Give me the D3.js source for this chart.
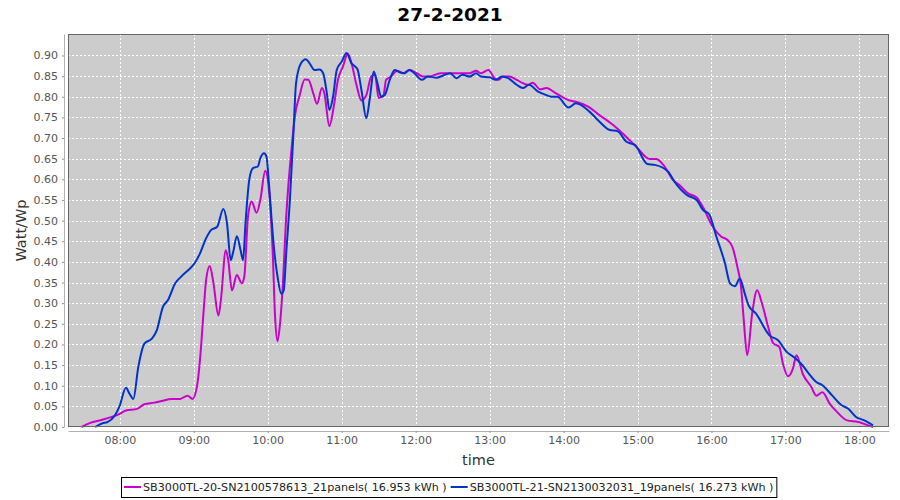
<!DOCTYPE html>
<html>
<head>
<meta charset="utf-8">
<script src="https://cdn.jsdelivr.net/npm/d3@7"></script>
<style>
  body { margin: 0; background: #fff; }
  svg { display: block; font-family: 'DejaVu Sans', sans-serif; }
</style>
</head>
<body>
<svg width="900" height="500"></svg>
<script>
// chart values
let chartTitle = '27-2-2021'
let xLabel = 'time'
let yLabel = 'Watt/Wp'
let xDomain = ['07:18', '18:24']
let yMax = 0.952
let yTicks = [0, 0.05, 0.1, 0.15, 0.2, 0.25, 0.3, 0.35, 0.4, 0.45, 0.5, 0.55, 0.6, 0.65, 0.7, 0.75, 0.8, 0.85, 0.9]

let seriesNames = [
  'SB3000TL-20-SN2100578613_21panels( 16.953 kWh )',
  'SB3000TL-21-SN2130032031_19panels( 16.273 kWh )'
]
let seriesColors = ['#cc00cc', '#0033cc']

let times20 = ['07:29', '07:36', '07:45', '07:53', '08:00', '08:05', '08:14', '08:20', '08:28', '08:34',
  '08:42', '08:49', '08:55', '08:59', '09:03', '09:05', '09:08', '09:10', '09:13', '09:16',
  '09:20', '09:22', '09:26', '09:28', '09:31', '09:35', '09:39', '09:41', '09:44', '09:47',
  '09:51', '09:54', '09:58', '10:01', '10:04', '10:06', '10:08', '10:10', '10:12', '10:15',
  '10:20', '10:22', '10:26', '10:30', '10:33', '10:37', '10:40', '10:44', '10:46', '10:50',
  '10:54', '10:57', '11:01', '11:05', '11:08', '11:12', '11:16', '11:20', '11:24', '11:27',
  '11:30', '11:34', '11:36', '11:40', '11:45', '11:50', '11:55', '12:01', '12:06', '12:11',
  '12:20', '12:28', '12:36', '12:44', '12:49', '12:53', '12:59', '13:04', '13:07', '13:11',
  '13:16', '13:22', '13:27', '13:31', '13:35', '13:41', '13:46', '13:54', '14:05', '14:10',
  '14:20', '14:28', '14:40', '14:48', '14:59', '15:10', '15:15', '15:21', '15:29', '15:34',
  '15:41', '15:48', '15:53', '16:01', '16:08', '16:13', '16:17', '16:21', '16:24', '16:26',
  '16:29', '16:33', '16:37', '16:41', '16:46', '16:50', '16:55', '16:58', '17:02', '17:06',
  '17:09', '17:14', '17:21', '17:25', '17:30', '17:36', '17:42', '17:50', '17:59', '18:07', '18:11']
let values20 = [0.000, 0.010, 0.017, 0.024, 0.032, 0.040, 0.044, 0.055, 0.059, 0.063,
  0.068, 0.068, 0.076, 0.068, 0.105, 0.160, 0.280, 0.355, 0.390, 0.348,
  0.270, 0.307, 0.428, 0.404, 0.331, 0.368, 0.348, 0.364, 0.509, 0.546,
  0.519, 0.550, 0.621, 0.574, 0.428, 0.266, 0.208, 0.250, 0.331, 0.509,
  0.695, 0.752, 0.804, 0.842, 0.841, 0.808, 0.783, 0.821, 0.808, 0.729,
  0.784, 0.841, 0.873, 0.904, 0.881, 0.829, 0.791, 0.804, 0.849, 0.853,
  0.797, 0.804, 0.841, 0.849, 0.863, 0.857, 0.865, 0.857, 0.849, 0.849,
  0.857, 0.857, 0.857, 0.857, 0.863, 0.857, 0.865, 0.845, 0.841, 0.849,
  0.849, 0.841, 0.833, 0.829, 0.834, 0.818, 0.821, 0.808, 0.791, 0.788,
  0.776, 0.758, 0.732, 0.711, 0.679, 0.649, 0.649, 0.635, 0.598, 0.586,
  0.566, 0.556, 0.533, 0.485, 0.461, 0.453, 0.436, 0.388, 0.339, 0.266,
  0.174, 0.275, 0.331, 0.299, 0.242, 0.203, 0.194, 0.153, 0.123, 0.141,
  0.174, 0.129, 0.097, 0.076, 0.084, 0.056, 0.036, 0.016, 0.012, 0.004, 0.000]

let times21 = ['07:40', '07:46', '07:50', '07:56', '08:00', '08:05', '08:08', '08:11', '08:15', '08:20',
  '08:26', '08:30', '08:35', '08:39', '08:45', '08:50', '08:57', '09:01', '09:05', '09:10',
  '09:14', '09:19', '09:24', '09:27', '09:30', '09:32', '09:35', '09:38', '09:40', '09:42',
  '09:45', '09:48', '09:52', '09:54', '09:57', '09:59', '10:01', '10:03', '10:05', '10:08',
  '10:11', '10:13', '10:15', '10:18', '10:21', '10:23', '10:27', '10:31', '10:34', '10:38',
  '10:42', '10:45', '10:48', '10:50', '10:53', '10:56', '11:00', '11:04', '11:08', '11:11',
  '11:13', '11:16', '11:20', '11:23', '11:26', '11:29', '11:32', '11:35', '11:39', '11:43',
  '11:47', '11:51', '11:55', '11:59', '12:05', '12:10', '12:17', '12:22', '12:28', '12:33',
  '12:38', '12:44', '12:49', '12:53', '13:00', '13:05', '13:10', '13:15', '13:22', '13:27',
  '13:32', '13:39', '13:46', '13:50', '13:55', '14:04', '14:10', '14:21', '14:29', '14:37',
  '14:44', '14:51', '14:58', '15:08', '15:14', '15:25', '15:30', '15:40', '15:48', '15:53',
  '15:58', '16:04', '16:11', '16:15', '16:19', '16:23', '16:27', '16:30', '16:36', '16:47',
  '16:54', '17:01', '17:07', '17:14', '17:18', '17:25', '17:30', '17:38', '17:45', '17:51',
  '17:57', '18:04', '18:11']
let values21 = [0.000, 0.009, 0.012, 0.028, 0.052, 0.095, 0.080, 0.068, 0.145, 0.202,
  0.214, 0.234, 0.291, 0.307, 0.348, 0.365, 0.384, 0.398, 0.420, 0.457,
  0.477, 0.485, 0.528, 0.493, 0.404, 0.424, 0.462, 0.428, 0.404, 0.494,
  0.598, 0.627, 0.631, 0.651, 0.663, 0.655, 0.590, 0.509, 0.436, 0.364,
  0.323, 0.331, 0.420, 0.550, 0.720, 0.833, 0.881, 0.891, 0.881, 0.865,
  0.866, 0.857, 0.808, 0.768, 0.800, 0.865, 0.885, 0.906, 0.881, 0.873,
  0.865, 0.817, 0.748, 0.800, 0.861, 0.833, 0.800, 0.804, 0.841, 0.865,
  0.859, 0.857, 0.865, 0.857, 0.841, 0.849, 0.846, 0.851, 0.857, 0.845,
  0.853, 0.849, 0.857, 0.849, 0.847, 0.841, 0.849, 0.845, 0.829, 0.821,
  0.829, 0.813, 0.804, 0.800, 0.800, 0.774, 0.784, 0.764, 0.740, 0.720,
  0.716, 0.691, 0.683, 0.637, 0.635, 0.618, 0.594, 0.562, 0.550, 0.526,
  0.516, 0.461, 0.396, 0.348, 0.341, 0.360, 0.323, 0.295, 0.275, 0.222,
  0.210, 0.182, 0.169, 0.149, 0.133, 0.109, 0.101, 0.076, 0.054, 0.044,
  0.025, 0.016, 0.004]

let parseTime = d3.timeParse('%Y-%m-%d %H:%M')
function toDate (hm) {
  return parseTime('2021-02-27 ' + hm)
}

let svg = d3.select('svg')
let plot = { left: 68, top: 34, right: 889, bottom: 427 }

let x = d3.scaleTime()
  .domain(xDomain.map(toDate))
  .range([plot.left, plot.right])
let y = d3.scaleLinear()
  .domain([0, yMax])
  .range([plot.bottom, plot.top])

// title
svg.append('text')
  .attr('x', 450)
  .attr('y', 21)
  .attr('text-anchor', 'middle')
  .attr('font-size', 18.5)
  .attr('font-weight', 'bold')
  .attr('fill', '#000')
  .text(chartTitle)

// plot background
svg.append('rect')
  .attr('x', plot.left)
  .attr('y', plot.top)
  .attr('width', plot.right - plot.left)
  .attr('height', plot.bottom - plot.top)
  .attr('fill', '#cccccc')

let hourTicks = x.ticks(d3.timeHour.every(1))

// grid lines
let grid = svg.append('g')
grid.selectAll('.vgrid')
  .data(hourTicks)
  .enter()
  .append('line')
  .attr('x1', d => Math.round(x(d)) + 0.5)
  .attr('x2', d => Math.round(x(d)) + 0.5)
  .attr('y1', plot.top)
  .attr('y2', plot.bottom)
grid.selectAll('.hgrid')
  .data(yTicks)
  .enter()
  .append('line')
  .attr('x1', plot.left)
  .attr('x2', plot.right)
  .attr('y1', d => Math.round(y(d)) + 0.5)
  .attr('y2', d => Math.round(y(d)) + 0.5)
grid.selectAll('line')
  .attr('stroke', '#ffffff')
  .attr('stroke-width', 1)
  .attr('stroke-dasharray', '2,2')

// series
let series = [
  { name: seriesNames[0], color: seriesColors[0], times: times20, values: values20 },
  { name: seriesNames[1], color: seriesColors[1], times: times21, values: values21 }
]

let line = d3.line()
  .x(d => x(d.t))
  .y(d => y(d.v))
  .curve(d3.curveMonotoneX)

let lines = svg.append('g')
series.forEach(function (s) {
  let pts = s.times.map((t, i) => ({ t: toDate(t), v: s.values[i] }))
  lines.append('path')
    .attr('d', line(pts))
    .attr('fill', 'none')
    .attr('stroke', s.color)
    .attr('stroke-width', 2)
    .attr('stroke-linejoin', 'round')
})

// plot outline
svg.append('rect')
  .attr('x', plot.left + 0.5)
  .attr('y', plot.top + 0.5)
  .attr('width', plot.right - plot.left - 1)
  .attr('height', plot.bottom - plot.top - 1)
  .attr('fill', 'none')
  .attr('stroke', '#666666')

// axes, offset a few pixels from the plot like the original
let xAxis = d3.axisBottom(x)
  .tickValues(hourTicks)
  .tickFormat(d3.timeFormat('%H:%M'))
  .tickSizeInner(2)
  .tickSizeOuter(0)
  .tickPadding(3)
let yAxis = d3.axisLeft(y)
  .tickValues(yTicks)
  .tickFormat(d3.format('.2f'))
  .tickSizeInner(2)
  .tickSizeOuter(0)
  .tickPadding(4)

let gx = svg.append('g')
  .attr('transform', 'translate(0,' + (plot.bottom + 4) + ')')
  .call(xAxis)
let gy = svg.append('g')
  .attr('transform', 'translate(' + (plot.left - 4) + ',0)')
  .call(yAxis)

;[gx, gy].forEach(function (g) {
  g.select('.domain').attr('stroke', '#b0b0b0')
  g.selectAll('.tick line').attr('stroke', '#909090')
  g.selectAll('.tick text')
    .attr('fill', '#555555')
    .attr('font-size', 11)
    .attr('font-family', 'DejaVu Sans, sans-serif')
})

// axis labels
svg.append('text')
  .attr('x', (plot.left + plot.right) / 2)
  .attr('y', 465)
  .attr('text-anchor', 'middle')
  .attr('font-size', 14.5)
  .attr('fill', '#333333')
  .text(xLabel)
svg.append('text')
  .attr('transform', 'translate(26,' + ((plot.top + plot.bottom) / 2) + ') rotate(-90)')
  .attr('text-anchor', 'middle')
  .attr('font-size', 14.5)
  .attr('fill', '#333333')
  .text(yLabel)

// legend
let legend = svg.append('g')
let legendY = 487
let cursor = 0
series.forEach(function (s) {
  let item = legend.append('g')
  item.append('line')
    .attr('x1', 0).attr('x2', 17)
    .attr('y1', legendY).attr('y2', legendY)
    .attr('stroke', s.color)
    .attr('stroke-width', 2)
  let txt = item.append('text')
    .attr('x', 19)
    .attr('y', legendY + 4)
    .attr('font-size', 11.15)
    .attr('fill', '#222222')
    .text(s.name)
  let w = 19 + txt.node().getComputedTextLength()
  item.attr('transform', 'translate(' + cursor + ',0)')
  cursor += w + 4
})
let legendWidth = cursor + 2
let legendX = Math.round(449 - legendWidth / 2)
legend.attr('transform', 'translate(' + (legendX + 3) + ',0)')
svg.insert('rect', 'g')
  .attr('x', legendX + 0.5)
  .attr('y', 477.5)
  .attr('width', legendWidth)
  .attr('height', 20)
  .attr('fill', '#fff')
  .attr('stroke', '#000')
</script>
</body>
</html>
